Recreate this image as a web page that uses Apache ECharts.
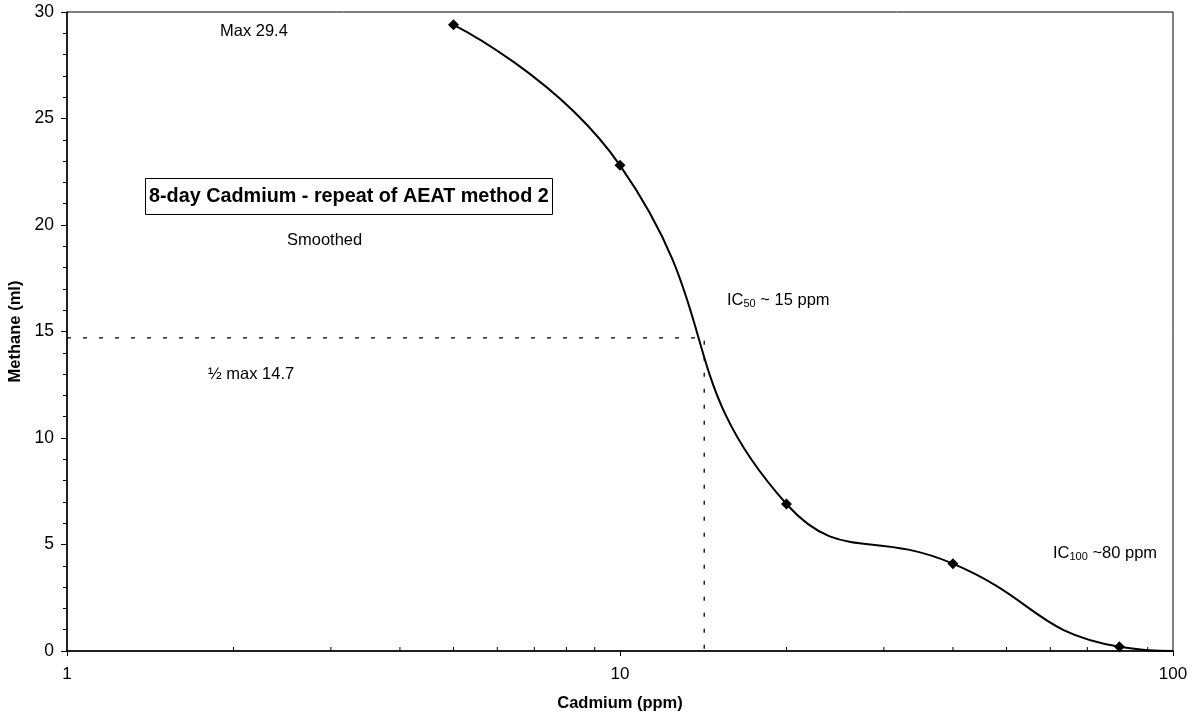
<!DOCTYPE html>
<html>
<head>
<meta charset="utf-8">
<script src="https://cdn.jsdelivr.net/npm/echarts@6/dist/echarts.min.js"></script>
<style>
  html, body { margin: 0; padding: 0; background: #fff; }
  #chart { width: 1194px; height: 715px; }
</style>
</head>
<body>
<div id="chart"></div>
<script>
// Methane yield vs cadmium dose (8-day test)
const cadmium = [5, 10, 20, 40, 80, 100];
const methane = [29.4, 22.8, 6.9, 4.1, 0.2, 0];
const markedPoints = [true, true, true, true, true, false];

const halfMax = 14.7;
const ic50 = 14.2;
const xMin = 1;
const xMax = 100;

const xTickLabels = ['1', '10', '100'];
const minorXTicks = [2, 3, 4, 5, 6, 7, 8, 9, 20, 30, 40, 50, 60, 70, 80, 90];

const FONT = '"Liberation Sans", Arial, Helvetica, sans-serif';

const chart = echarts.init(document.getElementById('chart'), null, { renderer: 'canvas' });

const lineData = cadmium.map((c, i) => {
  const item = { value: [c, methane[i]] };
  if (!markedPoints[i]) item.symbol = 'none';
  return item;
});

const noteStyle = { fontFamily: FONT, fontSize: 16.5, fill: '#000' };
const subRich = { s: { fontFamily: FONT, fontSize: 11, fill: '#000', padding: [6, 0, 0, 0] } };

chart.setOption({
  animation: false,
  backgroundColor: '#fff',
  textStyle: { fontFamily: FONT },
  title: {
    text: '8-day Cadmium - repeat of AEAT method 2',
    left: 145,
    top: 178,
    padding: [9, 4, 8, 4],
    borderColor: '#000',
    borderWidth: 1,
    textStyle: { fontFamily: FONT, fontSize: 19.8, fontWeight: 'bold', color: '#000' }
  },
  grid: {
    left: 67, right: 21, top: 12, bottom: 64,
    outerBoundsMode: 'none',
    containLabel: false,
    show: true, borderColor: '#000', borderWidth: 1, backgroundColor: 'transparent'
  },
  xAxis: {
    type: 'log',
    logBase: 10,
    min: xMin,
    max: xMax,
    name: 'Cadmium (ppm)',
    nameLocation: 'middle',
    nameGap: 44,
    nameTextStyle: { fontFamily: FONT, fontSize: 16.5, fontWeight: 'bold', color: '#000' },
    axisLine: { lineStyle: { color: '#000', width: 1.5 } },
    axisTick: { show: true, length: 5, lineStyle: { color: '#000' } },
    splitLine: { show: false },
    axisLabel: {
      fontFamily: FONT, fontSize: 17, color: '#000', margin: 15,
      formatter: v => {
        const idx = Math.round(Math.log10(v));
        return xTickLabels[idx] !== undefined ? xTickLabels[idx] : String(v);
      }
    }
  },
  yAxis: {
    type: 'value',
    min: 0,
    max: 30,
    interval: 5,
    name: 'Methane (ml)',
    nameLocation: 'middle',
    nameGap: 40,
    nameTextStyle: { fontFamily: FONT, fontSize: 16.5, fontWeight: 'bold', color: '#000' },
    axisLine: { show: true, lineStyle: { color: '#000', width: 1.5 } },
    axisTick: { show: true, length: 6, lineStyle: { color: '#000' } },
    minorTick: { show: true, splitNumber: 5, length: 4, lineStyle: { color: '#000' } },
    splitLine: { show: false },
    axisLabel: { fontFamily: FONT, fontSize: 17.5, color: '#000', margin: 13 }
  },
  series: [
    {
      type: 'line',
      data: lineData,
      smooth: 0.5,
      symbol: 'diamond',
      symbolSize: 11,
      clip: false,
      lineStyle: { color: '#000', width: 2 },
      itemStyle: { color: '#000' },
      z: 5
    },
    {
      // half-maximum guide lines
      type: 'line',
      data: [[xMin, halfMax], [ic50, halfMax], [ic50, 0]],
      symbol: 'none',
      silent: true,
      lineStyle: { color: '#000', width: 1.3, type: [4, 12] },
      z: 3
    },
    {
      // logarithmic minor ticks on the x axis
      type: 'custom',
      silent: true,
      clip: false,
      data: minorXTicks.map(v => [v, 0]),
      renderItem: (params, api) => {
        const p = api.coord([api.value(0), 0]);
        return {
          type: 'line',
          shape: { x1: p[0], y1: p[1], x2: p[0], y2: p[1] - 4 },
          style: { stroke: '#000', lineWidth: 1 }
        };
      },
      z: 4
    }
  ],
  graphic: [
    { type: 'text', left: 220, top: 23, style: Object.assign({ text: 'Max 29.4' }, noteStyle) },
    { type: 'text', left: 287, top: 232, style: Object.assign({ text: 'Smoothed' }, noteStyle) },
    { type: 'text', left: 208, top: 366, style: Object.assign({ text: '½ max 14.7' }, noteStyle) },
    {
      type: 'text', left: 727, top: 292,
      style: Object.assign({ text: 'IC{s|50} ~ 15 ppm', rich: subRich }, noteStyle)
    },
    {
      type: 'text', left: 1053, top: 545,
      style: Object.assign({ text: 'IC{s|100} ~80 ppm', rich: subRich }, noteStyle)
    }
  ]
});
</script>
</body>
</html>
